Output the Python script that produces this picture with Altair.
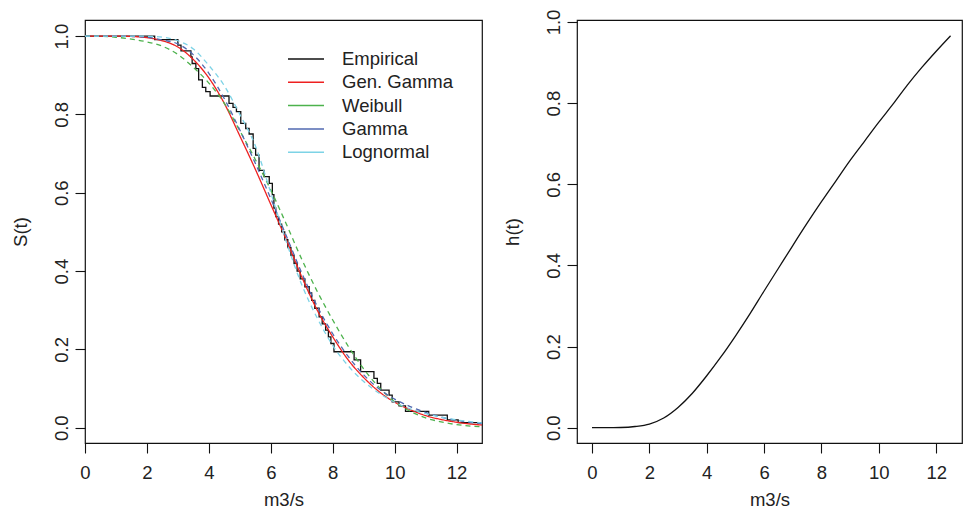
import altair as alt
import pandas as pd

# ---------------- data ----------------
model_names = ["Empirical", "Gen. Gamma", "Weibull", "Gamma", "Lognormal"]
model_colors = ["#111111", "#EE2020", "#4DB24D", "#5068B0", "#7DD3E6"]

# Kaplan-Meier (empirical) step function
km_time = [0, 2.25, 3.0, 3.1, 3.42, 3.46, 3.58, 3.67, 3.79, 3.9, 4.04, 4.65, 4.78, 4.89,
           5.03, 5.19, 5.3, 5.43, 5.51, 5.62, 5.78, 5.95, 6.05, 6.1, 6.16, 6.25, 6.35,
           6.45, 6.55, 6.65, 6.75, 6.85, 6.95, 7.1, 7.24, 7.32, 7.42, 7.56, 7.66, 7.77,
           7.86, 7.94, 8.04, 8.69, 8.9, 9.33, 9.44, 9.55, 9.82, 9.92, 10.14, 10.35,
           11.1, 11.7, 12.05, 12.9]
km_surv = [1.0, 0.991, 0.977, 0.962, 0.947, 0.93, 0.917, 0.888, 0.869, 0.858, 0.847,
           0.828, 0.818, 0.807, 0.777, 0.764, 0.75, 0.713, 0.696, 0.657, 0.641, 0.624,
           0.595, 0.561, 0.539, 0.52, 0.5, 0.48, 0.46, 0.44, 0.42, 0.40, 0.38, 0.36,
           0.344, 0.325, 0.305, 0.283, 0.265, 0.249, 0.232, 0.215, 0.194, 0.173, 0.143,
           0.126, 0.113, 0.096, 0.083, 0.066, 0.056, 0.042, 0.032, 0.02, 0.013, 0.013]

# fitted survival curves
t_grid = [0, 0.5, 1, 1.5, 2, 2.5, 3, 3.5, 4, 4.5, 5, 5.5, 6, 6.5, 7, 7.5, 8, 8.5, 9,
          9.5, 10, 10.5, 11, 11.5, 12, 12.5, 13]
s_gengamma = [1.0, 1.0, 1.0, 0.999, 0.996, 0.988, 0.972, 0.94, 0.893, 0.828, 0.745,
              0.66, 0.57, 0.48, 0.385, 0.30, 0.232, 0.173, 0.128, 0.092, 0.065, 0.046,
              0.031, 0.021, 0.014, 0.009, 0.006]
s_weibull = [1.0, 0.9995, 0.997, 0.992, 0.985, 0.974, 0.953, 0.92, 0.88, 0.828, 0.758,
             0.685, 0.607, 0.52, 0.43, 0.348, 0.275, 0.208, 0.15, 0.103, 0.066, 0.042,
             0.025, 0.015, 0.008, 0.004, 0.002]
s_gamma = [1.0, 1.0, 1.0, 0.999, 0.997, 0.99, 0.98, 0.952, 0.905, 0.84, 0.76, 0.675,
           0.585, 0.49, 0.395, 0.31, 0.24, 0.182, 0.135, 0.099, 0.073, 0.054, 0.039,
           0.027, 0.019, 0.013, 0.009]
s_lognormal = [1.0, 1.0, 1.0, 1.0, 0.9995, 0.997, 0.988, 0.967, 0.925, 0.873, 0.80, 0.72,
               0.60, 0.475, 0.365, 0.28, 0.21, 0.158, 0.118, 0.088, 0.065, 0.048, 0.036,
               0.027, 0.02, 0.015, 0.011]

# hazard function
h_time = [0, 0.5, 1, 1.5, 2, 2.5, 3, 3.5, 4, 4.5, 5, 5.5, 6, 6.5, 7, 7.5, 8, 8.5, 9,
          9.5, 10, 10.5, 11, 11.5, 12, 12.5]
h_vals = [0, 0, 0.0005, 0.003, 0.009, 0.024, 0.05, 0.085, 0.128, 0.175, 0.226, 0.28,
          0.337, 0.393, 0.449, 0.504, 0.557, 0.608, 0.659, 0.706, 0.753, 0.798, 0.845,
          0.888, 0.928, 0.966]

x_ticks = [0, 2, 4, 6, 8, 10, 12]
y_ticks = [0, 0.2, 0.4, 0.6, 0.8, 1.0]

# ---------------- tables ----------------
emp_df = pd.DataFrame({"t": km_time, "S": km_surv, "model": "Empirical"})
fit_rows = []
for name, vals in [("Gen. Gamma", s_gengamma), ("Weibull", s_weibull),
                   ("Gamma", s_gamma), ("Lognormal", s_lognormal)]:
    for t, s in zip(t_grid, vals):
        fit_rows.append({"t": t, "S": s, "model": name})
fit_df = pd.DataFrame(fit_rows)
haz_df = pd.DataFrame({"t": h_time, "h": h_vals})

FONT = "Liberation Sans"
TXT = "#222222"
FS = 18.5


def x_axis():
    return alt.Axis(values=x_ticks, title="m3/s", tickSize=10, labelPadding=10,
                    titlePadding=9, labelFlush=False, labelOverlap=False)


def y_axis(title):
    return alt.Axis(values=y_ticks, title=title, format=".1f", tickSize=10,
                    labelAngle=270, labelAlign="center", labelBaseline="bottom",
                    labelPadding=4, titlePadding=22, labelFlush=False,
                    labelOverlap=False)


color_scale = alt.Scale(domain=model_names, range=model_colors)
legend = alt.Legend(title=None, orient="none", legendX=211, legendY=29,
                    symbolType="M-2,0H2", symbolSize=324, symbolStrokeWidth=1.5,
                    labelFontSize=FS, labelFont=FONT, labelColor=TXT, labelOffset=26,
                    rowPadding=3.3, padding=0)

xs_left = alt.Scale(domain=[0, 12.82], nice=False, zero=False)
ys_left = alt.Scale(domain=[-0.039, 1.041], nice=False, zero=False)

emp = alt.Chart(emp_df).mark_line(interpolate="step-after", strokeWidth=1.3,
                                  clip=True).encode(
    x=alt.X("t:Q", scale=xs_left, axis=x_axis()),
    y=alt.Y("S:Q", scale=ys_left, axis=y_axis("S(t)")),
    color=alt.Color("model:N", scale=color_scale, legend=legend),
)

fit = alt.Chart(fit_df).mark_line(interpolate="monotone", strokeWidth=1.3,
                                  clip=True).encode(
    x=alt.X("t:Q", scale=xs_left, axis=x_axis()),
    y=alt.Y("S:Q", scale=ys_left, axis=y_axis("S(t)")),
    color=alt.Color("model:N", scale=color_scale, legend=legend),
    strokeDash=alt.StrokeDash("model:N", scale=alt.Scale(
        domain=["Gen. Gamma", "Weibull", "Gamma", "Lognormal"],
        range=[[1, 0], [5, 4], [5, 4], [5, 4]]), legend=None),
    detail="model:N",
)

left = alt.layer(emp, fit).properties(width=397, height=423)

right = alt.Chart(haz_df).mark_line(interpolate="monotone", strokeWidth=1.3,
                                    color="#111111", clip=True).encode(
    x=alt.X("t:Q", scale=alt.Scale(domain=[-0.523, 12.90], nice=False, zero=False),
            axis=x_axis()),
    y=alt.Y("h:Q", scale=alt.Scale(domain=[-0.0377, 1.0049], nice=False, zero=False),
            axis=y_axis("h(t)")),
).properties(width=385, height=423)

chart = alt.hconcat(left, right, spacing=19).properties(
    padding={"left": 2, "top": 0, "right": 0, "bottom": 0},
    background="white",
).configure_view(
    stroke="#111111", strokeWidth=1.2
).configure_axis(
    grid=False, domain=False, tickColor="#111111", tickWidth=1.1,
    labelFont=FONT, labelFontSize=FS, labelColor=TXT,
    titleFont=FONT, titleFontSize=FS, titleFontWeight="normal", titleColor=TXT,
)

chart.save("out.html", embed_options={"renderer": "svg", "actions": False})
